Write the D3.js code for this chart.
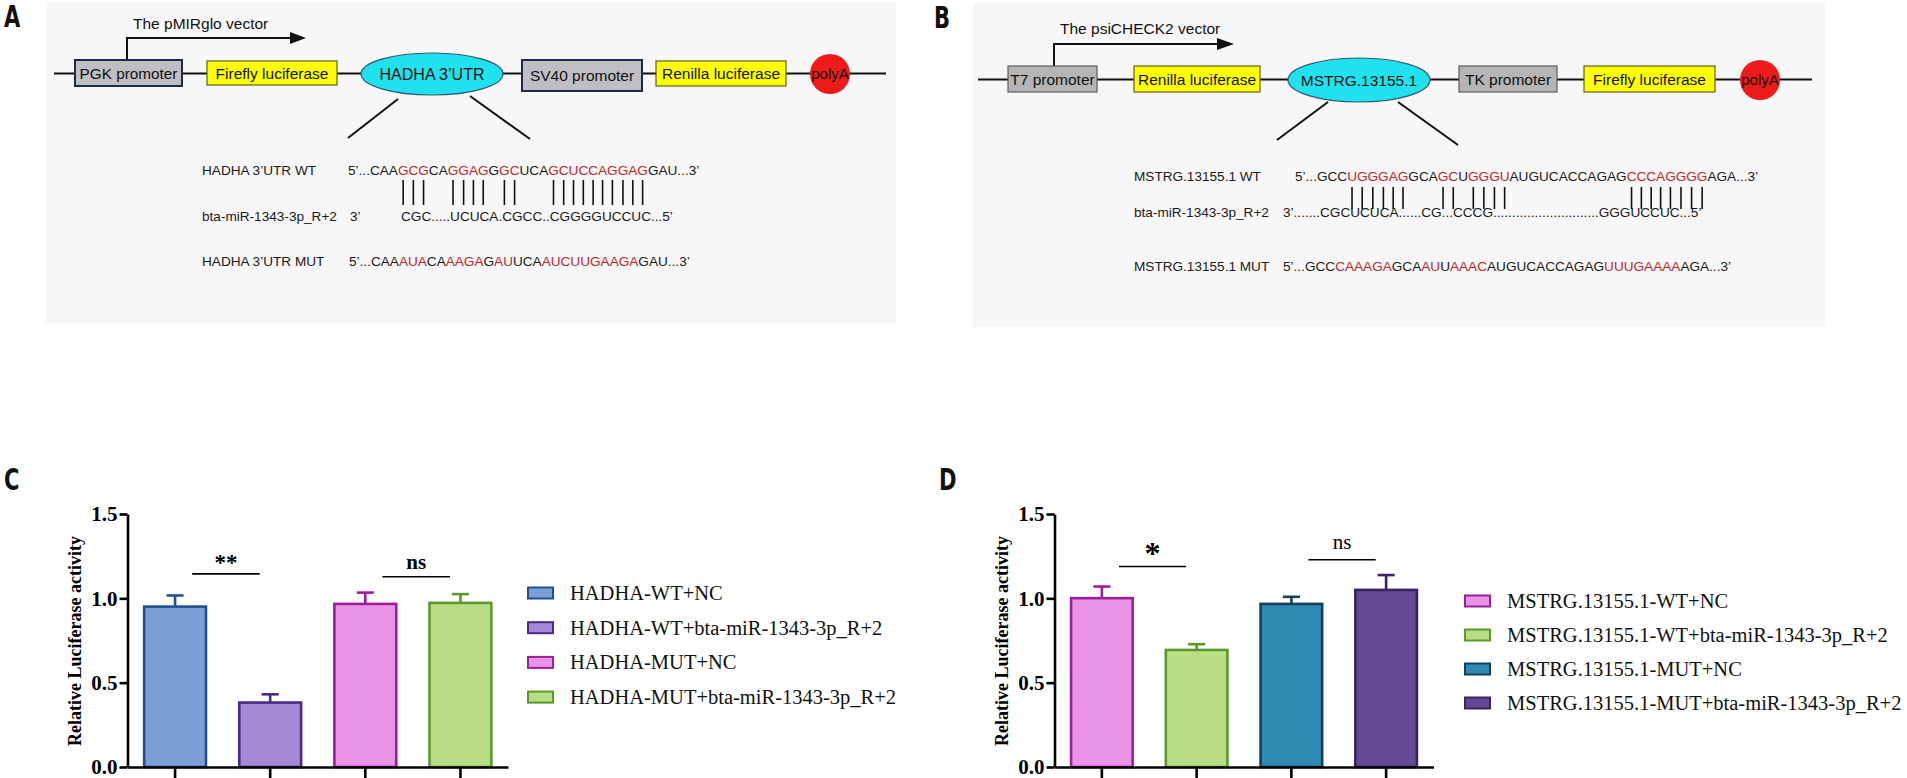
<!DOCTYPE html>
<html>
<head>
<meta charset="utf-8">
<script src="https://cdn.jsdelivr.net/npm/d3@7"></script>
<style>
  body { margin: 0; background: #fff; }
  svg { display: block; }
</style>
</head>
<body>
<div id="fig"></div>
<script>
// ---- data: luciferase bars ----
const cGroups = ['HADHA-WT+NC', 'HADHA-WT+bta-miR-1343-3p_R+2', 'HADHA-MUT+NC', 'HADHA-MUT+bta-miR-1343-3p_R+2'];
const cMeans = [0.951, 0.382, 0.967, 0.973];
const cErrors = [0.066, 0.049, 0.067, 0.052];
const cSigText = ['**', 'ns'];
const cSigLevel = [1.145, 1.128];

const dGroups = ['MSTRG.13155.1-WT+NC', 'MSTRG.13155.1-WT+bta-miR-1343-3p_R+2', 'MSTRG.13155.1-MUT+NC', 'MSTRG.13155.1-MUT+bta-miR-1343-3p_R+2'];
const dMeans = [1.001, 0.694, 0.967, 1.050];
const dErrors = [0.069, 0.034, 0.042, 0.088];
const dSigText = ['*', 'ns'];
const dSigLevel = [1.189, 1.229];

const yTicks = [0, 0.5, 1.0, 1.5];
const yLabel = 'Relative Luciferase activity';

// ---- data: vector schematics ----
const vectorATitle = 'The pMIRglo vector';
const vectorAParts = ['PGK promoter', 'Firefly luciferase', 'HADHA 3’UTR', 'SV40 promoter', 'Renilla luciferase', 'polyA'];
const vectorBTitle = 'The psiCHECK2 vector';
const vectorBParts = ['T7 promoter', 'Renilla luciferase', 'MSTRG.13155.1', 'TK promoter', 'Firefly luciferase', 'polyA'];

// sequence segments alternate black / red, starting with black
const rowLabelsA = ['HADHA 3’UTR WT', 'bta-miR-1343-3p_R+2', 'HADHA 3’UTR MUT'];
const seqA_WT = ['5’...CAA', 'GCG', 'CA', 'GGAG', 'G', 'GC', 'UCA', 'GCUCCAGGAG', 'GAU...3’'];
const seqA_miR = ['CGC.....UCUCA.CGCC..CGGGGUCCUC...5’'];
const seqA_MUT = ['5’...CAA', 'AUA', 'CA', 'AAGA', 'G', 'AU', 'UCA', 'AUCUUGAAGA', 'GAU...3’'];

const rowLabelsB = ['MSTRG.13155.1 WT', 'bta-miR-1343-3p_R+2', 'MSTRG.13155.1 MUT'];
const seqB_WT = ['5’...GCC', 'UGGGAG', 'GCA', 'GC', 'U', 'GGGU', 'AUGUCACCAGAG', 'CCCAGGGG', 'AGA...3’'];
const seqB_miR = ['3’' + '.'.repeat(7) + 'CGCUCUCA' + '.'.repeat(6) + 'CG...CCCG' + '.'.repeat(28) + 'GGGUCCUC...5’'];
const seqB_MUT = ['5’...GCC', 'CAAAGA', 'GCA', 'AU', 'U', 'AAAC', 'AUGUCACCAGAG', 'UUUGAAAA', 'AGA...3’'];

const panelLetters = ['A', 'B', 'C', 'D'];

// ---- styles ----
const SANS = '"Liberation Sans", Arial, sans-serif';
const SERIF = '"Liberation Serif", "Times New Roman", serif';
const RED = '#c0262c';
const cFill = ['#7aa0d6', '#a589d4', '#ea94e8', '#b9dd85'];
const cStroke = ['#22508f', '#4a2a8a', '#9a1f9a', '#5b9a2a'];
const dFill = ['#ea94e8', '#b9dd85', '#2d8ab1', '#634894'];
const dStroke = ['#9a1f9a', '#5b9a2a', '#173f5c', '#39245f'];

const svg = d3.select('#fig').append('svg')
    .attr('width', 1907)
    .attr('height', 778);

svg.append('rect').attr('width', 1907).attr('height', 778).attr('fill', '#fff');

// panel letters (condensed look)
const letterPos = [[4, 27], [934, 28], [4, 490], [939, 490]];
svg.selectAll('text.letter')
    .data(panelLetters)
    .enter().append('text')
    .attr('class', 'letter')
    .attr('transform', (d, i) => `translate(${letterPos[i][0]},${letterPos[i][1]}) scale(0.78,1)`)
    .style('font-family', '"Liberation Sans Narrow", "DejaVu Sans Condensed", sans-serif')
    .style('font-weight', 'bold')
    .style('font-size', '30px')
    .attr('fill', '#111')
    .text(d => d);

// ---------- vector schematic ----------
function drawVector(cfg) {
    const g = svg.append('g');
    g.append('rect')
        .attr('x', cfg.box[0]).attr('y', cfg.box[1])
        .attr('width', cfg.box[2] - cfg.box[0]).attr('height', cfg.box[3] - cfg.box[1])
        .attr('fill', '#f8f7f8');

    // backbone
    g.append('line')
        .attr('x1', cfg.line[0]).attr('x2', cfg.line[1])
        .attr('y1', cfg.lineY).attr('y2', cfg.lineY)
        .attr('stroke', '#111').attr('stroke-width', 2);

    // promoter arrow
    const a = cfg.arrow;
    g.append('path')
        .attr('d', `M${a.x},${a.y0}V${a.y1}H${a.x1}`)
        .attr('fill', 'none').attr('stroke', '#111').attr('stroke-width', 2);
    g.append('path')
        .attr('d', `M${a.x1 - 1},${a.y1 - 6}L${a.x2},${a.y1}L${a.x1 - 1},${a.y1 + 6}Z`)
        .attr('fill', '#111');
    g.append('text')
        .attr('x', cfg.titlePos[0]).attr('y', cfg.titlePos[1])
        .style('font-family', SANS).style('font-size', '15.5px')
        .attr('fill', '#111')
        .text(cfg.title);

    // components
    cfg.parts.forEach(function(name, i) {
        const p = cfg.layout[i];
        let cx, cy;
        if (p.type === 'rect') {
            g.append('rect')
                .attr('x', p.x0).attr('y', p.y0)
                .attr('width', p.x1 - p.x0).attr('height', p.y1 - p.y0)
                .attr('fill', p.fill).attr('stroke', p.stroke).attr('stroke-width', p.sw);
            cx = (p.x0 + p.x1) / 2; cy = (p.y0 + p.y1) / 2;
        } else if (p.type === 'ellipse') {
            g.append('ellipse')
                .attr('cx', p.cx).attr('cy', p.cy).attr('rx', p.rx).attr('ry', p.ry)
                .attr('fill', '#1fe2ee').attr('stroke', '#2a5a78').attr('stroke-width', 1.2);
            cx = p.cx; cy = p.cy;
        } else {
            g.append('circle')
                .attr('cx', p.cx).attr('cy', p.cy).attr('r', p.r)
                .attr('fill', '#ee1b1b');
            cx = p.cx; cy = p.cy;
        }
        g.append('text')
            .attr('x', cx).attr('y', cy)
            .attr('text-anchor', 'middle').attr('dy', '0.36em')
            .style('font-family', SANS).style('font-size', p.fs + 'px')
            .attr('fill', '#111')
            .text(name);
    });

    // zoom-in lines
    cfg.zoomLines.forEach(function(l) {
        g.append('line')
            .attr('x1', l[0]).attr('y1', l[1]).attr('x2', l[2]).attr('y2', l[3])
            .attr('stroke', '#111').attr('stroke-width', 2);
    });

    // sequence rows
    const r = cfg.rows;
    cfg.rowLabels.forEach(function(lab, i) {
        g.append('text')
            .attr('x', r.labelX).attr('y', r.ys[i])
            .style('font-family', SANS).style('font-size', '13.6px')
            .attr('fill', '#1a1a1a')
            .text(lab);
    });
    if (r.miRPrefix) {
        g.append('text')
            .attr('x', r.miRPrefix[0]).attr('y', r.ys[1])
            .style('font-family', SANS).style('font-size', '13.6px')
            .attr('fill', '#1a1a1a')
            .text('3’');
    }
    const seqNodes = cfg.seqs.map(function(segs, i) {
        const t = g.append('text')
            .attr('x', r.seqX[i]).attr('y', r.ys[i])
            .style('font-family', SANS).style('font-size', '13.6px');
        t.selectAll('tspan')
            .data(segs)
            .enter().append('tspan')
            .attr('fill', (d, k) => k % 2 ? RED : '#1a1a1a')
            .text(d => d);
        return t.node();
    });

    // base-pair ticks under the red bases of the WT row
    const wt = seqNodes[0];
    let offset = 0;
    const idx = [];
    cfg.seqs[0].forEach(function(s, k) {
        if (k % 2) for (let j = 0; j < s.length; j++) idx.push(offset + j);
        offset += s.length;
    });
    g.selectAll('line.pair')
        .data(idx)
        .enter().append('line')
        .attr('class', 'pair')
        .attr('x1', d => { const e = wt.getExtentOfChar(d); return e.x + e.width / 2; })
        .attr('x2', d => { const e = wt.getExtentOfChar(d); return e.x + e.width / 2; })
        .attr('y1', r.pairY[0]).attr('y2', r.pairY[1])
        .attr('stroke', '#111').attr('stroke-width', 1.6);
}

const yellow = { fill: '#ffff00', stroke: '#5f5f2a', sw: 1.2 };

drawVector({
    box: [46, 2, 896, 323],
    line: [54, 886], lineY: 73.5,
    arrow: { x: 127, y0: 60, y1: 38, x1: 291, x2: 306 },
    title: vectorATitle, titlePos: [133, 29],
    parts: vectorAParts,
    layout: [
        { type: 'rect', x0: 75, x1: 182, y0: 60, y1: 86, fill: '#bebec3', stroke: '#1d2a4c', sw: 2, fs: 15.3 },
        Object.assign({ type: 'rect', x0: 207, x1: 337, y0: 61, y1: 85, fs: 15.5 }, yellow),
        { type: 'ellipse', cx: 432, cy: 74, rx: 71, ry: 21, fs: 16 },
        { type: 'rect', x0: 522, x1: 642, y0: 60, y1: 91, fill: '#bebec3', stroke: '#1d2a4c', sw: 2, fs: 15.5 },
        Object.assign({ type: 'rect', x0: 656, x1: 786, y0: 61, y1: 86, fs: 15.5 }, yellow),
        { type: 'circle', cx: 830, cy: 74, r: 20, fs: 15 }
    ],
    zoomLines: [[398, 99, 348, 138], [470, 96, 530, 139]],
    rowLabels: rowLabelsA,
    seqs: [seqA_WT, seqA_miR, seqA_MUT],
    rows: { labelX: 202, ys: [175, 221, 266], seqX: [348, 401, 349], miRPrefix: [350], pairY: [180, 205] }
});

drawVector({
    box: [973, 3, 1825, 327],
    line: [978, 1812], lineY: 79.5,
    arrow: { x: 1054, y0: 66, y1: 44, x1: 1218, x2: 1234 },
    title: vectorBTitle, titlePos: [1060, 34],
    parts: vectorBParts,
    layout: [
        { type: 'rect', x0: 1008, x1: 1097, y0: 66, y1: 92, fill: '#b5b5b5', stroke: '#5d5d5d', sw: 1.2, fs: 15.5 },
        Object.assign({ type: 'rect', x0: 1134, x1: 1260, y0: 66, y1: 92, fs: 15.5 }, yellow),
        { type: 'ellipse', cx: 1359, cy: 80, rx: 71, ry: 22, fs: 15.5 },
        { type: 'rect', x0: 1459, x1: 1557, y0: 66, y1: 92, fill: '#b5b5b5', stroke: '#5d5d5d', sw: 1.2, fs: 15.5 },
        Object.assign({ type: 'rect', x0: 1584, x1: 1715, y0: 66, y1: 92, fs: 15.5 }, yellow),
        { type: 'circle', cx: 1760, cy: 80, r: 20, fs: 15 }
    ],
    zoomLines: [[1328, 102, 1277, 140], [1398, 102, 1458, 145]],
    rowLabels: rowLabelsB,
    seqs: [seqB_WT, seqB_miR, seqB_MUT],
    rows: { labelX: 1134, ys: [181, 217, 271], seqX: [1295, 1283, 1283], miRPrefix: null, pairY: [187, 209] }
});

// ---------- bar panels ----------
function drawBars(cfg) {
    const g = svg.append('g');
    const y = d3.scaleLinear().domain([0, 1.5]).range([767, 514]);
    const x = d3.scaleBand()
        .domain(cfg.groups)
        .range([cfg.x0, cfg.x1])
        .paddingInner(0.35)
        .paddingOuter(0.175);
    const rows = cfg.groups.map((k, i) => ({ k: k, v: cfg.means[i], e: cfg.errors[i], i: i }));

    // error bars (upper only)
    g.selectAll('line.err')
        .data(rows)
        .enter().append('line')
        .attr('x1', d => x(d.k) + x.bandwidth() / 2)
        .attr('x2', d => x(d.k) + x.bandwidth() / 2)
        .attr('y1', d => y(d.v))
        .attr('y2', d => y(d.v + d.e))
        .attr('stroke', d => cfg.stroke[d.i]).attr('stroke-width', 2.6);
    g.selectAll('line.cap')
        .data(rows)
        .enter().append('line')
        .attr('x1', d => x(d.k) + x.bandwidth() / 2 - 8.5)
        .attr('x2', d => x(d.k) + x.bandwidth() / 2 + 8.5)
        .attr('y1', d => y(d.v + d.e))
        .attr('y2', d => y(d.v + d.e))
        .attr('stroke', d => cfg.stroke[d.i]).attr('stroke-width', 2.6);

    g.selectAll('rect.bar')
        .data(rows)
        .enter().append('rect')
        .attr('x', d => x(d.k))
        .attr('y', d => y(d.v))
        .attr('width', x.bandwidth())
        .attr('height', d => y(0) - y(d.v))
        .attr('fill', d => cfg.fill[d.i])
        .attr('stroke', d => cfg.stroke[d.i])
        .attr('stroke-width', 2.6);

    // axes
    const yAxis = g.append('g')
        .attr('transform', `translate(${cfg.x0},0)`)
        .call(d3.axisLeft(y).tickValues(yTicks).tickFormat(d3.format('.1f')).tickSize(8).tickSizeOuter(0).tickPadding(2));
    const xAxis = g.append('g')
        .attr('transform', 'translate(0,767)')
        .call(d3.axisBottom(x).tickFormat('').tickSize(13).tickSizeOuter(0));
    [yAxis, xAxis].forEach(function(a) {
        a.select('.domain').attr('stroke', '#000').attr('stroke-width', 2.6);
        a.selectAll('.tick line').attr('stroke', '#000').attr('stroke-width', 2.6);
    });
    yAxis.selectAll('.tick text')
        .attr('fill', '#000')
        .style('font-family', SERIF).style('font-weight', 'bold').style('font-size', '21px');

    g.append('text')
        .attr('transform', `translate(${cfg.x0 - 47},641) rotate(-90)`)
        .attr('text-anchor', 'middle')
        .style('font-family', SERIF).style('font-weight', 'bold').style('font-size', '18px')
        .attr('fill', '#000')
        .text(yLabel);

    // significance marks
    const pairs = [[0, 1], [2, 3]];
    pairs.forEach(function(p, i) {
        const a = x(cfg.groups[p[0]]) + x.bandwidth() / 2 + 0.18 * x.step();
        const b = x(cfg.groups[p[1]]) + x.bandwidth() / 2 - 0.11 * x.step();
        const ly = y(cfg.sigLevel[i]);
        g.append('line')
            .attr('x1', a).attr('x2', b).attr('y1', ly).attr('y2', ly)
            .attr('stroke', '#000').attr('stroke-width', 1.6);
        const s = cfg.sigStyle[i];
        g.append('text')
            .attr('x', (a + b) / 2).attr('y', ly + s.dy)
            .attr('text-anchor', 'middle')
            .style('font-family', SERIF).style('font-weight', s.w).style('font-size', s.fs + 'px')
            .attr('fill', '#000')
            .text(cfg.sigText[i]);
    });

    // legend
    const lg = g.append('g');
    const item = lg.selectAll('g')
        .data(rows)
        .enter().append('g')
        .attr('transform', d => `translate(${cfg.legX},${cfg.legY + d.i * cfg.legStep})`);
    item.append('rect')
        .attr('x', 0).attr('y', -5.5).attr('width', 25).attr('height', 11)
        .attr('fill', d => cfg.fill[d.i]).attr('stroke', d => cfg.stroke[d.i]).attr('stroke-width', 2);
    item.append('text')
        .attr('x', 42).attr('y', 7)
        .style('font-family', SERIF).style('font-size', '20.5px')
        .attr('fill', '#111')
        .text(d => d.k);
}

drawBars({
    groups: cGroups, means: cMeans, errors: cErrors,
    sigText: cSigText, sigLevel: cSigLevel,
    sigStyle: [{ fs: 23, w: 'bold', dy: -4 }, { fs: 21, w: 'bold', dy: -8 }],
    x0: 127.5, x1: 508,
    fill: cFill, stroke: cStroke,
    legX: 528, legY: 593, legStep: 34.7
});

drawBars({
    groups: dGroups, means: dMeans, errors: dErrors,
    sigText: dSigText, sigLevel: dSigLevel,
    sigStyle: [{ fs: 32, w: 'bold', dy: -2 }, { fs: 21, w: 'normal', dy: -11 }],
    x0: 1054.5, x1: 1433.5,
    fill: dFill, stroke: dStroke,
    legX: 1465, legY: 601, legStep: 34
});
</script>
</body>
</html>
